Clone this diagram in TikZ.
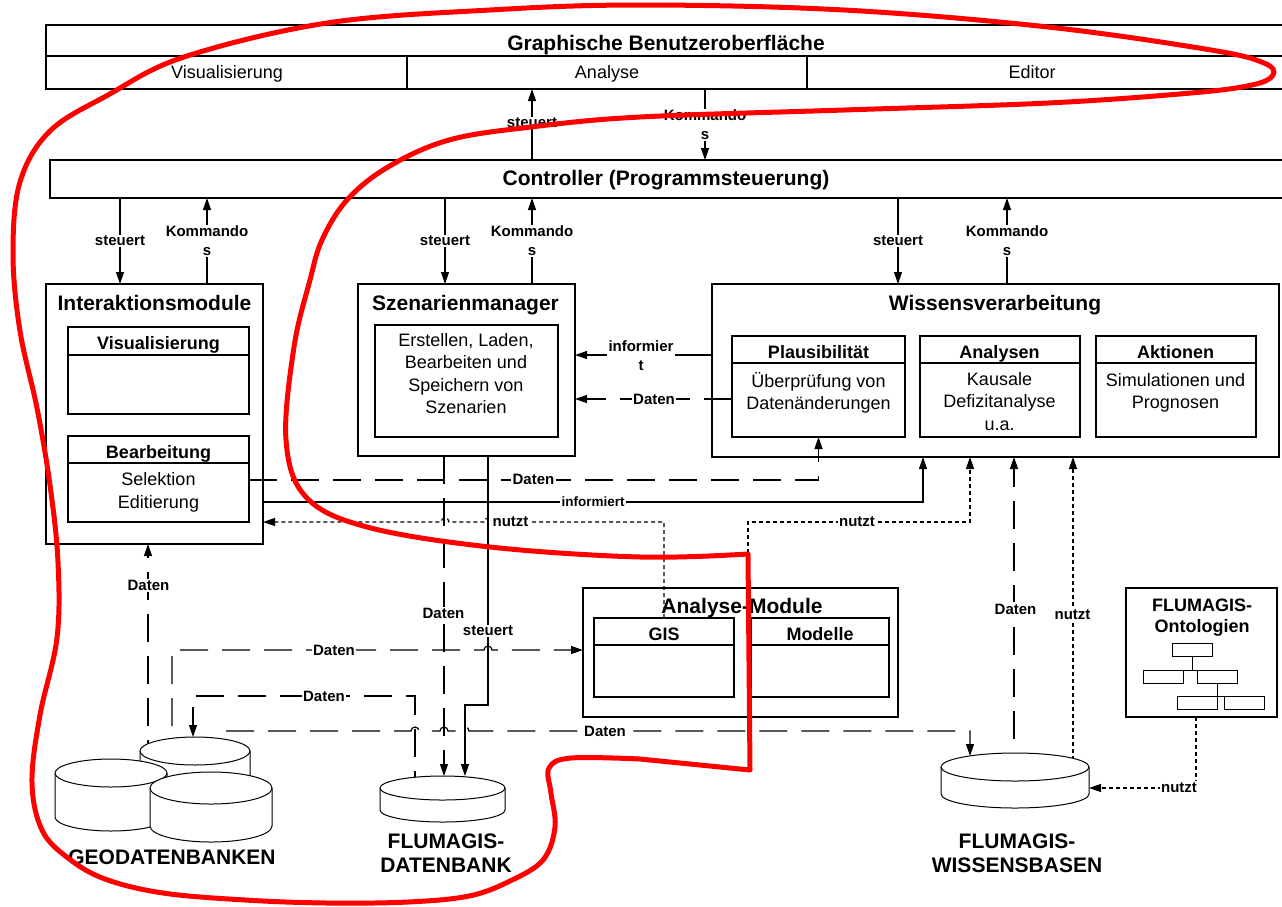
\documentclass[tikz,border=0pt]{standalone}
\usepackage{fontspec}
\setmainfont{Liberation Sans}
\usetikzlibrary{arrows.meta,backgrounds}

\tikzset{
  box/.style={draw, line width=1.1pt, inner sep=0pt, outer sep=0pt},
  big/.style={font=\bfseries\fontsize{21}{24}\selectfont, align=center, text depth=0pt, inner sep=0pt},
  mid/.style={font=\bfseries\fontsize{18}{21}\selectfont, align=center, text depth=0pt, inner sep=0pt},
  txt/.style={font=\fontsize{18}{22.5}\selectfont, align=center, text depth=0pt, inner sep=0pt},
  lbl/.style={fill=white, inner sep=1.5pt, font=\bfseries\fontsize{15}{19}\selectfont, align=center, text depth=0pt},
  arr/.style={line width=1.1pt, -{Triangle[length=12pt,width=8pt]}},
  daten/.style={line width=1.2pt, dash pattern=on 28pt off 14pt},
  nutzt/.style={line width=1.2pt, dash pattern=on 4pt off 3pt},
  db/.style={inner sep=0pt, outer sep=0pt},
  dbline/.style={draw, fill=white, line width=1pt},
}

\begin{document}
\begin{tikzpicture}[x=1pt, y=-1pt]
    \useasboundingbox (0,0) rectangle (1282,906);

    % Benutzeroberflaeche
    \node[box, minimum width=1240pt, minimum height=31pt] (guiT) at (666,40.5) {};
    \node[box, minimum width=361pt, minimum height=33pt] (gVis) at (226.5,72.5) {};
    \node[box, minimum width=400pt, minimum height=33pt] (gAna) at (607,72.5) {};
    \node[box, minimum width=479pt, minimum height=33pt] (gEdi) at (1046.5,72.5) {};
    \node[big] (guiTxt) at (666,42.5) {Graphische Benutzeroberfläche};
    \node[txt] (gVisTxt) at (227,72) {Visualisierung};
    \node[txt] (gAnaTxt) at (607,72) {Analyse};
    \node[txt] (gEdiTxt) at (1032,72) {Editor};

    % Controller
    \node[box, minimum width=1236pt, minimum height=38pt] (ctrl) at (668,179) {};
    \node[big] (ctrlTxt) at (666,178) {Controller (Programmsteuerung)};

    % Interaktionsmodule
    \node[box, minimum width=217pt, minimum height=260pt] (im) at (154.5,414) {};
    \node[big] (imTxt) at (154.5,302.5) {Interaktionsmodule};
    \node[box, minimum width=181pt, minimum height=28pt] (visH) at (158.5,341) {};
    \node[box, minimum width=181pt, minimum height=59pt] (visB) at (158.5,384.5) {};
    \node[mid] (visTxt) at (158.5,343) {Visualisierung};
    \node[box, minimum width=181pt, minimum height=27pt] (beaH) at (158.5,449.5) {};
    \node[box, minimum width=181pt, minimum height=59pt] (beaB) at (158.5,492.5) {};
    \node[mid] (beaTxt) at (158.5,452) {Bearbeitung};
    \node[txt] (beaBTxt) at (158.5,490.5) {Selektion\\Editierung};

    % Szenarienmanager
    \node[box, minimum width=217pt, minimum height=172pt] (sm) at (466.5,370) {};
    \node[big] (smTxt) at (465.5,302.5) {Szenarienmanager};
    \node[box, minimum width=183pt, minimum height=112pt] (smB) at (466.5,381) {};
    \node[txt] (smBTxt) at (466,373.5) {Erstellen, Laden,\\Bearbeiten und\\Speichern von\\Szenarien};

    % Wissensverarbeitung
    \node[box, minimum width=567pt, minimum height=173pt] (wv) at (995.5,370.5) {};
    \node[big] (wvTxt) at (995,303) {Wissensverarbeitung};
    \node[box, minimum width=173pt, minimum height=27pt] (plauH) at (818.5,349.5) {};
    \node[box, minimum width=173pt, minimum height=74pt] (plauB) at (818.5,400) {};
    \node[box, minimum width=160pt, minimum height=27pt] (anaH) at (1000,349.5) {};
    \node[box, minimum width=160pt, minimum height=74pt] (anaB) at (1000,400) {};
    \node[box, minimum width=160pt, minimum height=27pt] (aktH) at (1176,349.5) {};
    \node[box, minimum width=160pt, minimum height=74pt] (aktB) at (1176,400) {};
    \node[mid] (plauTxt) at (818.5,351.5) {Plausibilität};
    \node[mid] (anaTxt) at (999.5,351.5) {Analysen};
    \node[mid] (aktTxt) at (1175.5,351.5) {Aktionen};
    \node[txt] (plauBTxt) at (818.5,391) {Überprüfung von\\Datenänderungen};
    \node[txt] (anaBTxt) at (999.5,401) {Kausale\\Defizitanalyse\\u.a.};
    \node[txt] (aktBTxt) at (1175.5,391) {Simulationen und\\Prognosen};

    % Analyse-Module
    \node[box, minimum width=315pt, minimum height=129pt] (am) at (740.5,652.5) {};
    \node[big] (amTxt) at (742,606) {Analyse-Module};
    \node[box, minimum width=140pt, minimum height=27pt] (gisH) at (664,631.5) {};
    \node[box, minimum width=140pt, minimum height=52pt] (gisB) at (664,671) {};
    \node[box, minimum width=138pt, minimum height=27pt] (modH) at (820,631.5) {};
    \node[box, minimum width=138pt, minimum height=52pt] (modB) at (820,671) {};
    \node[mid] (gisTxt) at (664,634) {GIS};
    \node[mid] (modTxt) at (820,634) {Modelle};

    % Ontologien
    \node[box, minimum width=151pt, minimum height=129pt] (onto) at (1201.5,652.5) {};
    \node[mid] (ontoTxt) at (1202,615.5) {FLUMAGIS-\\Ontologien};
    \node[box, line width=0.9pt, minimum width=40pt, minimum height=13pt] (t1) at (1192,650) {};
    \node[box, line width=0.9pt, minimum width=40pt, minimum height=13pt] (t2) at (1163,677) {};
    \node[box, line width=0.9pt, minimum width=40pt, minimum height=13pt] (t3) at (1217,677) {};
    \node[box, line width=0.9pt, minimum width=40pt, minimum height=13pt] (t4) at (1197,703) {};
    \node[box, line width=0.9pt, minimum width=40pt, minimum height=13pt] (t5) at (1244,703) {};
    \draw[line width=0.9pt] (t1.south) -- (t1.south |- t2.north);
    \draw[line width=0.9pt] (t2.north) -- (t3.north);
    \draw[line width=0.9pt] (t3.south) -- (t3.south |- t4.north);
    \draw[line width=0.9pt] (t4.north) -- (t5.north);

    % Datenbanken
    \node[db, minimum width=110pt, minimum height=62pt] (geo1) at (195,768) {};
    \node[db, minimum width=112pt, minimum height=72pt] (geo2) at (111,795) {};
    \node[db, minimum width=122pt, minimum height=70pt] (geo3) at (211,807) {};
    \node[db, minimum width=125pt, minimum height=46pt] (fdb) at (442.5,799) {};
    \node[db, minimum width=148pt, minimum height=55pt] (wb) at (1015,780.5) {};
    \draw[dbline] ([yshift=-14pt]geo1.north west) -- ([yshift=14pt]geo1.south west)
        arc[start angle=180, end angle=360, x radius=55pt, y radius=14pt]
        -- ([yshift=-14pt]geo1.north east)
        arc[start angle=0, end angle=180, x radius=55pt, y radius=14pt] -- cycle;
    \draw[dbline] ([yshift=-14pt]geo1.north west) arc[start angle=180, end angle=360, x radius=55pt, y radius=14pt];
    \draw[dbline] ([yshift=-14pt]geo2.north west) -- ([yshift=14pt]geo2.south west)
        arc[start angle=180, end angle=360, x radius=56pt, y radius=14pt]
        -- ([yshift=-14pt]geo2.north east)
        arc[start angle=0, end angle=180, x radius=56pt, y radius=14pt] -- cycle;
    \draw[dbline] ([yshift=-14pt]geo2.north west) arc[start angle=180, end angle=360, x radius=56pt, y radius=14pt];
    \draw[dbline] ([yshift=-16pt]geo3.north west) -- ([yshift=16pt]geo3.south west)
        arc[start angle=180, end angle=360, x radius=61pt, y radius=16pt]
        -- ([yshift=-16pt]geo3.north east)
        arc[start angle=0, end angle=180, x radius=61pt, y radius=16pt] -- cycle;
    \draw[dbline] ([yshift=-16pt]geo3.north west) arc[start angle=180, end angle=360, x radius=61pt, y radius=16pt];
    \draw[dbline] ([yshift=-12pt]fdb.north west) -- ([yshift=12pt]fdb.south west)
        arc[start angle=180, end angle=360, x radius=62.5pt, y radius=12pt]
        -- ([yshift=-12pt]fdb.north east)
        arc[start angle=0, end angle=180, x radius=62.5pt, y radius=12pt] -- cycle;
    \draw[dbline] ([yshift=-12pt]fdb.north west) arc[start angle=180, end angle=360, x radius=62.5pt, y radius=12pt];
    \draw[dbline] ([yshift=-14pt]wb.north west) -- ([yshift=14pt]wb.south west)
        arc[start angle=180, end angle=360, x radius=74pt, y radius=14pt]
        -- ([yshift=-14pt]wb.north east)
        arc[start angle=0, end angle=180, x radius=74pt, y radius=14pt] -- cycle;
    \draw[dbline] ([yshift=-14pt]wb.north west) arc[start angle=180, end angle=360, x radius=74pt, y radius=14pt];
    \node[big] (geoTxt) at (172,857.5) {GEODATENBANKEN};
    \node[big] (fdbTxt) at (446,853.5) {FLUMAGIS-\\DATENBANK};
    \node[big] (wbTxt) at (1017,853.5) {FLUMAGIS-\\WISSENSBASEN};

    \begin{scope}[on background layer]
        % Oberflaeche und Controller
        \draw[arr] (ctrl.north -| 532,0) -- (gAna.south -| 532,0);
        \draw[arr] (gAna.south -| 705,0) -- (ctrl.north -| 705,0);
        \draw[arr] (ctrl.south -| 120,0) -- (im.north -| 120,0);
        \draw[arr] (im.north -| 207,0) -- (ctrl.south -| 207,0);
        \draw[arr] (ctrl.south -| 445,0) -- (sm.north -| 445,0);
        \draw[arr] (sm.north -| 532,0) -- (ctrl.south -| 532,0);
        \draw[arr] (ctrl.south -| 898,0) -- (wv.north -| 898,0);
        \draw[arr] (wv.north -| 1007,0) -- (ctrl.south -| 1007,0);

        % Module untereinander
        \draw[arr] (wv.west |- 0,355) -- (sm.east |- 0,355);
        \draw[arr, daten] (plauB.west |- 0,399) -- (sm.east |- 0,399);
        \draw[arr, daten] (beaB.east |- 0,480) -| (plauB.south);
        \draw[arr] (im.east |- 0,502) -| (wv.south -| 923,0);
        \draw[arr, nutzt] (gisH.north) -- (gisH.north |- 0,522) -- (492,522)
            arc[start angle=0, end angle=180, radius=4pt] -- (449,522)
            arc[start angle=0, end angle=180, radius=4pt] -- (im.east |- 0,522);
        \draw[arr, nutzt] (am.north -| 748,0) -- (748,522) -| (wv.south -| 970,0);

        % Datenbanken
        \draw[arr, daten] (sm.south -| 444,0) -- (fdb.north -| 444,0);
        \draw[arr] (sm.south -| 488,0) -- (488,705) -- (465,705) -- (fdb.north -| 465,0);
        \draw[arr, daten] (geo1.center -| 148,0) -- (im.south -| 148,0);
        \draw[arr, daten] (geo1.center -| 172,0) -- (172,650) -- (484,650)
            arc[start angle=180, end angle=0, radius=4pt] -- (am.west |- 0,650);
        \draw[arr, daten] (fdb.center -| 415,0) -- (415,696) -- (193,696) -- (geo1.north -| 193,0);
        \draw[arr, daten] (geo1.center -| 221,0) -- (221,731) -- (411,731)
            arc[start angle=180, end angle=0, radius=4pt] -- (440,731)
            arc[start angle=180, end angle=0, radius=4pt] -- (461,731)
            arc[start angle=180, end angle=0, radius=4pt] -- (970,731) -- ([yshift=-3pt]wb.north -| 970,0);
        \draw[arr, daten] (wb.center -| 1014,0) -- (wv.south -| 1014,0);
        \draw[arr, nutzt] (wb.center -| 1073,0) -- (wv.south -| 1073,0);
        \draw[arr, nutzt] (onto.south -| 1196,0) |- (wb.east |- 0,788);
    \end{scope}

    % Beschriftungen
    \node[lbl] (lA) at (532,123) {steuert};
    \node[lbl] (lB) at (705,125) {Kommando\\s};
    \node[lbl] (lC) at (120,241) {steuert};
    \node[lbl] (lD) at (207,241) {Kommando\\s};
    \node[lbl] (lE) at (445,241) {steuert};
    \node[lbl] (lF) at (532,241) {Kommando\\s};
    \node[lbl] (lG) at (898,241) {steuert};
    \node[lbl] (lH) at (1007,241) {Kommando\\s};
    \node[lbl] (lI) at (641,355.5) {informier\\t};
    \node[lbl] (lJ) at (654,399) {Daten};
    \node[lbl] (lK) at (533.5,479) {Daten};
    \node[lbl, font=\bfseries\fontsize{13.5}{16}\selectfont] (lL) at (593,502) {informiert};
    \node[lbl] (lM) at (510.5,522) {nutzt};
    \node[lbl] (lN) at (857,522) {nutzt};
    \node[lbl] (lO) at (148.5,585.5) {Daten};
    \node[lbl] (lP) at (443.5,613.5) {Daten};
    \node[lbl] (lQ) at (488,631) {steuert};
    \node[lbl] (lR) at (334,650) {Daten};
    \node[lbl] (lS) at (324,696) {Daten};
    \node[lbl] (lT) at (605,731) {Daten};
    \node[lbl] (lU) at (1015.5,609) {Daten};
    \node[lbl] (lV) at (1072.5,615) {nutzt};
    \node[lbl] (lW) at (1179,787.5) {nutzt};

    % rote Markierung
    \draw[red, line width=5pt, line cap=round, line join=round]
        (748,554) -- (750,770) -- (640,759) -- plot[smooth, tension=0.6] coordinates {
        (640,759) (571,758) (549,768) (551,793) (555,827) (543,860) (510,881)
        (469,896) (408,902) (327,903) (245,900) (163,893) (105,879)
        (68,858) (42,830) (32,782) (40,715) (57,638) (58,562) (50,485) (37,408)
        (20,331) (13,254) (20,182) (50,131) (108,95) (184,57) (327,23) (490,10)
        (640,5) (844,10) (1048,27) (1211,50) (1264,63) (1273,75) (1252,85)
        (1191,93) (1048,103) (844,110) (640,117) (531,127) (449,140) (388,167)
        (347,200) (322,240) (310,280) (294,347) (286,440) (306,497) (367,527)
        (490,547) (640,557) (748,554)};
\end{tikzpicture}
\end{document}
